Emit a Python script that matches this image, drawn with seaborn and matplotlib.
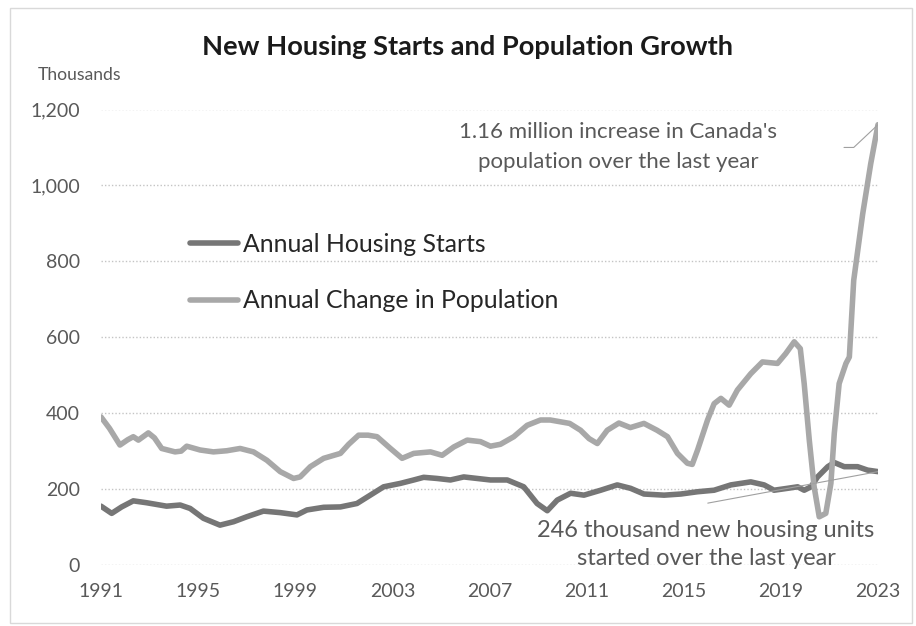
import matplotlib
matplotlib.use("Agg")
import matplotlib.pyplot as plt
from matplotlib.patches import Rectangle
from matplotlib.ticker import FuncFormatter
import pandas as pd
import seaborn as sns

# Annual change in Canada's population (thousands), by fractional year
pop_years = [1991.0, 1991.35, 1991.78, 1992.1, 1992.33, 1992.54, 1992.95, 1993.2, 1993.5,
             1994.05, 1994.3, 1994.53, 1995.08, 1995.63, 1996.18, 1996.73, 1997.28, 1997.83,
             1998.38, 1998.93, 1999.2, 1999.62, 2000.17, 2000.86, 2001.2, 2001.61, 2002.0,
             2002.37, 2002.92, 2003.4, 2003.88, 2004.57, 2005.05, 2005.53, 2006.08, 2006.63,
             2007.04, 2007.45, 2008.0, 2008.55, 2009.1, 2009.5, 2010.3, 2010.75, 2011.1,
             2011.44, 2011.85, 2012.33, 2012.8, 2013.36, 2013.9, 2014.33, 2014.74, 2015.15,
             2015.35, 2015.57, 2015.98, 2016.25, 2016.53, 2016.87, 2017.21, 2017.76, 2018.24,
             2018.86, 2019.2, 2019.55, 2019.8, 2019.96, 2020.17, 2020.37, 2020.58, 2020.85,
             2021.06, 2021.2, 2021.4, 2021.68, 2021.82, 2022.0, 2022.37, 2022.7, 2023.0]
pop_values = [390, 360, 316, 330, 338, 329, 348, 335, 307,
              298, 300, 313, 303, 298, 301, 307, 298, 276,
              246, 228, 232, 259, 281, 294, 318, 342, 342,
              338, 307, 281, 294, 298, 289, 311, 329, 325,
              313, 318, 338, 368, 382, 382, 373, 355, 333,
              320, 355, 374, 362, 373, 355, 338, 294, 268,
              265, 303, 382, 425, 439, 421, 461, 504, 535,
              531, 557, 588, 570, 478, 329, 206, 127, 136,
              215, 347, 478, 531, 548, 750, 925, 1057, 1160]

# Annual housing starts (thousands), by fractional year
starts_years = [1991.0, 1991.44, 1991.85, 1992.33, 1992.88, 1993.7, 1994.26, 1994.67, 1995.22,
                1995.9, 1996.46, 1997.0, 1997.69, 1998.38, 1999.07, 1999.48, 2000.17, 2000.86,
                2001.54, 2002.09, 2002.64, 2003.33, 2003.88, 2004.29, 2004.84, 2005.39, 2005.94,
                2006.49, 2007.04, 2007.73, 2008.41, 2008.96, 2009.38, 2009.79, 2010.34, 2010.89,
                2011.58, 2012.26, 2012.81, 2013.36, 2014.19, 2014.88, 2015.57, 2016.25, 2016.94,
                2017.76, 2018.31, 2018.72, 2019.27, 2019.69, 2019.96, 2020.24, 2020.51, 2020.93,
                2021.2, 2021.61, 2022.16, 2022.57, 2023.0]
starts_values = [155, 136, 153, 169, 164, 155, 158, 149, 123,
                 105, 114, 127, 142, 138, 132, 145, 152, 153,
                 162, 184, 206, 215, 224, 231, 228, 224, 232,
                 228, 224, 224, 206, 162, 143, 171, 189, 184,
                 197, 211, 202, 187, 184, 187, 193, 197, 211,
                 219, 211, 197, 202, 206, 197, 206, 232, 259,
                 270, 259, 259, 250, 246]

year_ticks = list(range(1991, 2024, 4))
value_ticks = [0, 200, 400, 600, 800, 1000, 1200]

STARTS_COLOR = "#767676"
POP_COLOR = "#a8a8a8"
TEXT_GRAY = "#595959"

sns.set_theme(style="white")
plt.rcParams["font.family"] = ["Lato", "DejaVu Sans"]

W, H = 916, 626
fig = plt.figure(figsize=(W / 100, H / 100), dpi=100)
fig.patch.set_facecolor("white")
ax = fig.add_axes([101 / W, 1 - 565 / H, 777 / W, (565 - 109.5) / H])

starts_df = pd.DataFrame({"year": starts_years, "value": starts_values})
pop_df = pd.DataFrame({"year": pop_years, "value": pop_values})

sns.lineplot(data=starts_df, x="year", y="value", ax=ax, color=STARTS_COLOR,
             linewidth=4, label="Annual Housing Starts", estimator=None,
             solid_joinstyle="round", solid_capstyle="round")
sns.lineplot(data=pop_df, x="year", y="value", ax=ax, color=POP_COLOR,
             linewidth=4, label="Annual Change in Population", estimator=None,
             solid_joinstyle="round", solid_capstyle="round")

ax.set_xlim(1991, 2023)
ax.set_ylim(0, 1200)
ax.set_xticks(year_ticks)
ax.set_yticks(value_ticks)
ax.yaxis.set_major_formatter(FuncFormatter(lambda v, _: f"{int(v):,}"))
ax.set_xlabel("")
ax.set_ylabel("")
for s in ax.spines.values():
    s.set_visible(False)
ax.yaxis.grid(True, linestyle=(0, (1, 1.5)), color="#c4c4c4", linewidth=1)
ax.xaxis.grid(False)
ax.set_axisbelow(True)
ax.tick_params(axis="y", length=0, pad=15, labelsize=14, labelcolor=TEXT_GRAY)
ax.tick_params(axis="x", length=0, pad=13, labelsize=14, labelcolor=TEXT_GRAY)

# Legend inside the plot area
leg = ax.legend(loc="upper left", bbox_to_anchor=(190 / W, 1 - 233 / H),
                bbox_transform=fig.transFigure, frameon=False, fontsize=17.8,
                handlelength=1.95, handletextpad=0.2, labelspacing=1.35,
                borderpad=0, borderaxespad=0)
for t in leg.get_texts():
    t.set_color("#262626")

# Callouts for the latest values
pop_last = pop_values[-1]
starts_last = starts_values[-1]
ax.text(2012.3, 1100,
        f"{pop_last / 1000:.2f} million increase in Canada's\npopulation over the last year",
        ha="center", va="center", fontsize=16, color=TEXT_GRAY, linespacing=1.62)
ax.plot([2021.6, 2022.0, pop_years[-1]], [1100, 1100, pop_last],
        color="#a0a0a0", linewidth=0.8)

ax.text(2015.92, 53,
        f"{starts_last:.0f} thousand new housing units\nstarted over the last year",
        ha="center", va="center", fontsize=17, color=TEXT_GRAY, linespacing=1.42)
ax.plot([2015.99, starts_years[-1]], [163, starts_last],
        color="#a0a0a0", linewidth=0.8)

fig.text(467 / W, 1 - 47 / H, "New Housing Starts and Population Growth",
         ha="center", va="center", fontsize=19.6, fontweight="bold", color="#1a1a1a")
fig.text(38 / W, 1 - 75 / H, "Thousands", ha="left", va="center",
         fontsize=12.6, color=TEXT_GRAY)

# Chart frame
fig.patches.append(Rectangle((10 / W, 3 / H), (912 - 10) / W, (618 - 3) / H,
                             transform=fig.transFigure, fill=False,
                             edgecolor="#d9d9d9", linewidth=1))

fig.savefig("out.png", dpi=100, facecolor="white")
